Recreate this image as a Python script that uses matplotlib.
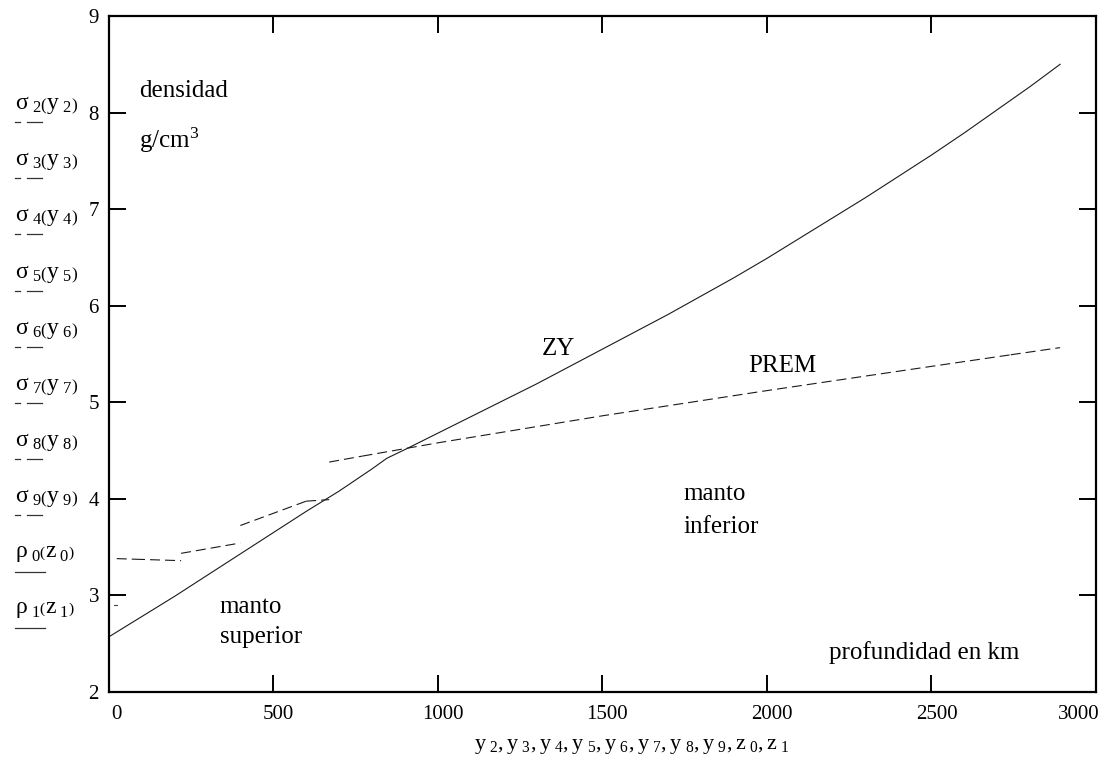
import matplotlib
matplotlib.use("Agg")
import matplotlib.pyplot as plt
import matplotlib.transforms as mtransforms
from matplotlib.lines import Line2D

plt.rcParams['font.family'] = ['Liberation Serif', 'DejaVu Serif']
plt.rcParams['mathtext.fontset'] = 'custom'
plt.rcParams['mathtext.rm'] = 'Liberation Serif'
plt.rcParams['mathtext.it'] = 'Liberation Serif'
plt.rcParams['mathtext.bf'] = 'Liberation Serif:bold'

# ---------------- data ----------------
# ZY model (solid)
zy_depth = [0, 100, 200, 300, 400, 500, 600, 700, 800, 845, 900, 1000, 1100, 1200, 1300,
            1400, 1500, 1600, 1700, 1800, 1900, 2000, 2100, 2200, 2300, 2400, 2500,
            2600, 2700, 2800, 2891]
zy_rho = [2.57, 2.78, 2.99, 3.21, 3.43, 3.65, 3.87, 4.08, 4.31, 4.42, 4.51, 4.68, 4.85, 5.02, 5.19,
          5.37, 5.55, 5.73, 5.91, 6.10, 6.29, 6.49, 6.70, 6.91, 7.12, 7.34, 7.56,
          7.79, 8.03, 8.27, 8.50]

# PREM segments (dashed)
prem_d2, prem_r2 = [24.4, 80], [3.381, 3.375]
prem_d3, prem_r3 = [80, 220], [3.375, 3.360]
prem_d4, prem_r4 = [220, 400], [3.436, 3.543]
prem_d5, prem_r5 = [400, 600], [3.724, 3.976]
prem_d6, prem_r6 = [600, 670], [3.976, 3.992]
prem_d7, prem_r7 = [670, 771], [4.381, 4.443]
prem_d8, prem_r8 = [771, 1000, 1500, 2000, 2500, 2741], [4.443, 4.580, 4.860, 5.121, 5.372, 5.492]
prem_d9, prem_r9 = [2741, 2891], [5.492, 5.566]

# crust (solid, tiny)
crust_d, crust_r = [15, 24.4], [2.9, 2.9]

x_ticks = [0, 500, 1000, 1500, 2000, 2500, 3000]
y_ticks = [2, 3, 4, 5, 6, 7, 8, 9]

legend_entries = [
    (r"$\sigma_{\ 2}\left(\mathrm{y}_{\ 2}\right)$", 'dash'),
    (r"$\sigma_{\ 3}\left(\mathrm{y}_{\ 3}\right)$", 'dash'),
    (r"$\sigma_{\ 4}\left(\mathrm{y}_{\ 4}\right)$", 'dash'),
    (r"$\sigma_{\ 5}\left(\mathrm{y}_{\ 5}\right)$", 'dash'),
    (r"$\sigma_{\ 6}\left(\mathrm{y}_{\ 6}\right)$", 'dash'),
    (r"$\sigma_{\ 7}\left(\mathrm{y}_{\ 7}\right)$", 'dash'),
    (r"$\sigma_{\ 8}\left(\mathrm{y}_{\ 8}\right)$", 'dash'),
    (r"$\sigma_{\ 9}\left(\mathrm{y}_{\ 9}\right)$", 'dash'),
    (r"$\rho_{\ 0}\left(\mathrm{z}_{\ 0}\right)$", 'solid'),
    (r"$\rho_{\ 1}\left(\mathrm{z}_{\ 1}\right)$", 'solid'),
]
x_label = (r"$\mathrm{y}_{\ 2},\mathrm{y}_{\ 3},\mathrm{y}_{\ 4},\mathrm{y}_{\ 5},"
           r"\mathrm{y}_{\ 6},\mathrm{y}_{\ 7},\mathrm{y}_{\ 8},\mathrm{y}_{\ 9},"
           r"\mathrm{z}_{\ 0},\mathrm{z}_{\ 1}$")

# ---------------- figure ----------------
W, H = 1109, 763
fig = plt.figure(figsize=(W / 100, H / 100), dpi=100)
fig.patch.set_facecolor('white')

left_px, right_px, top_px, bot_px = 108.7, 1096.0, 16.0, 692.0
ax = fig.add_axes([left_px / W, 1 - bot_px / H, (right_px - left_px) / W, (bot_px - top_px) / H])
ax.set_xlim(0, 3000)
ax.set_ylim(2, 9)

line_col = '#1a1a1a'
ax.plot(zy_depth, zy_rho, color=line_col, lw=0.8, solid_joinstyle='round')
ax.plot(crust_d, crust_r, color='#444444', lw=0.8)
for d, r in [(prem_d2, prem_r2), (prem_d3, prem_r3), (prem_d4, prem_r4),
             (prem_d5, prem_r5), (prem_d6, prem_r6), (prem_d7, prem_r7),
             (prem_d8, prem_r8), (prem_d9, prem_r9)]:
    ax.plot(d, r, color=line_col, lw=0.8, dashes=(9, 4.5))

for s in ax.spines.values():
    s.set_linewidth(1.6)
    s.set_color('black')

ax.set_xticks(x_ticks)
ax.set_yticks(y_ticks)
ax.tick_params(axis='both', direction='in', length=12, width=1.4,
               top=True, right=True, color='black')
ax.tick_params(axis='y', labelsize=15, pad=7)
ax.set_yticklabels([str(v) for v in y_ticks])
ax.set_xticklabels([])

# x tick labels (Mathcad style: kept inside plot width)
xt_trans = mtransforms.blended_transform_factory(ax.transData, ax.transAxes)
for t in x_ticks:
    if t == x_ticks[0]:
        ha, dx = 'left', 3
    elif t == x_ticks[-1]:
        ha, dx = 'right', 4
    else:
        ha, dx = 'center', 5
    tr = xt_trans + mtransforms.ScaledTranslation(dx / 100, -13 / 100, fig.dpi_scale_trans)
    ax.text(t, 0, str(t), transform=tr, ha=ha, va='top', fontsize=15)

# annotations
fs = 18
ax.text(92, 8.16, "densidad", fontsize=fs, va='baseline')
ax.text(92, 7.63, r"g/cm$^{3}$", fontsize=fs, va='baseline')
ax.text(1317, 5.49, "ZY", fontsize=fs, va='baseline')
ax.text(1943, 5.31, "PREM", fontsize=fs, va='baseline')
ax.text(338, 2.82, "manto", fontsize=fs, va='baseline')
ax.text(338, 2.51, "superior", fontsize=fs, va='baseline')
ax.text(1746, 3.99, "manto", fontsize=fs, va='baseline')
ax.text(1746, 3.65, "inferior", fontsize=fs, va='baseline')
ax.text(2189, 2.34, "profundidad en km", fontsize=fs, va='baseline')

# y-axis label stack (Mathcad style) with line-style samples
for i, (lab, style) in enumerate(legend_entries):
    cy = 105 + 56.2 * i
    fig.text(15 / W, 1 - cy / H, lab, fontsize=17, ha='left', va='center')
    uy = 1 - (cy + 17) / H
    if style == 'dash':
        fig.add_artist(Line2D([15 / W, 20 / W], [uy, uy], color='#333333', lw=0.9))
        fig.add_artist(Line2D([27 / W, 42 / W], [uy, uy], color='#333333', lw=0.9))
    else:
        fig.add_artist(Line2D([15 / W, 45 / W], [uy, uy], color='#333333', lw=0.9))

# x-axis label
fig.text(632 / W, 1 - 746 / H, x_label, fontsize=16, ha='center', va='center')

fig.savefig("out.png", dpi=100, facecolor='white')
